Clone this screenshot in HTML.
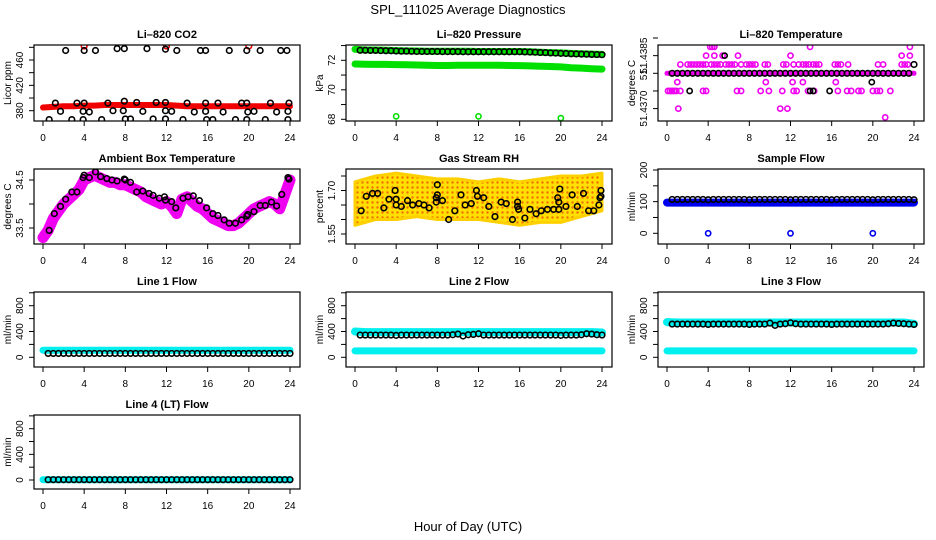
<!DOCTYPE html>
<html><head><meta charset="utf-8"><style>
html,body{margin:0;padding:0;background:#fff}
svg{display:block;font-family:"Liberation Sans",sans-serif}
</style></head><body>
<svg id="c" width="936" height="540" viewBox="0 0 936 540">
<defs>
<pattern id="rhpat" width="5" height="5" patternUnits="userSpaceOnUse">
<rect width="5" height="5" fill="#ffe000"/><circle cx="2.5" cy="2.5" r="1.2" fill="#f07000"/>
</pattern>
</defs>
<text x="468" y="14" text-anchor="middle" font-size="13">SPL_111025  Average Diagnostics</text>
<text x="468" y="531" text-anchor="middle" font-size="13">Hour of Day (UTC)</text>
</svg>
<script>
// ---------- data ----------
const xTicks = [0,4,8,12,16,20,24];
// CO2
const co2Band = [385,386,387,387,388,388,389,389,389,389,389,389,389,388,387,387,387,387,387,387,387,387,387,387,387];
const co2SpikeX = [4,12,20];
const co2SpikeY = [482,482,482];
const co2BlackX = [2.2,4,5.1,7.2,7.9,10.1,11.9,13,15.3,15.8,18.1,19.8,21.1,23.1,23.7, 1.2,3.3,4,6.3,7.9,9.1,11,11.9,14,15.8,17,19.3,19.8,22.1,23.9, 1.7,3.9,4.5,6.8,7.8,9.7,11.9,12.5,14.7,15.8,17.5,19.9,20.5,22.7,23.8, 0.6,2.8,3.9,5.7,8,8.5,10.7,11.9,13.6,15.9,16.5,18.7,19.8,21.6,23.8];
const co2BlackY = [475,475,475,478,478,478,477,475,475,475,475,475,475,475,475, 392,392,392,392,395,393,393,393,392,392,392,392,392,392,392, 379,379,378,380,380,379,380,379,378,379,378,378,379,378,379, 366,366,366,366,367,367,367,367,366,366,366,366,366,366,366];
// Pressure
const presHi = [72.75,72.7,72.7,72.68,72.66,72.64,72.63,72.62,72.62,72.62,72.61,72.61,72.6,72.6,72.6,72.6,72.6,72.58,72.55,72.52,72.5,72.47,72.45,72.42,72.4];
const presLo = [71.75,71.73,71.72,71.72,71.71,71.7,71.68,71.66,71.65,71.65,71.66,71.67,71.67,71.66,71.66,71.65,71.64,71.62,71.6,71.58,71.55,71.5,71.47,71.43,71.4];
const presBlack = [72.68,72.68,72.67,72.67,72.66,72.65,72.65,72.63,72.62,72.62,72.61,72.6,72.6,72.6,72.6,72.6,72.59,72.59,72.59,72.59,72.58,72.58,72.58,72.58,72.58,72.58,72.58,72.58,72.58,72.58,72.58,72.58,72.57,72.56,72.55,72.53,72.52,72.5,72.49,72.47,72.46,72.44,72.43,72.42,72.41,72.4,72.39,72.38];
const presOutX = [4,12,20];
const presOutY = [68.2,68.2,68.08];
// Li-820 temperature
const tempLine = [51.438,51.438,51.438,51.438,51.438,51.438,51.438,51.438,51.438,51.438,51.438,51.438,51.438,51.438,51.438,51.438,51.438,51.438,51.438,51.438,51.438,51.438,51.438,51.438,51.438];
const tempMagX = [4.2,4.4,4.6,13.9,23.6, 3.8,4.6,5.4,6.9,12,22.8,23.6, 1.3,2,2.3,2.6,2.9,3.2,3.5,3.8,4.3,4.6,4.9,5.2,5.7,6,6.3,6.6,7.2,7.7,8,8.3,8.6,9.5,9.8,11.3,11.6,12.3,12.8,13.2,13.5,13.8,14.2,14.5,14.8,16.3,16.6,16.9,17.6,20.5,21,22.8,23.1,23.4, 1,9.6,12.2,13.2,16.4, 0.1,0.3,0.5,0.7,0.9,1.3,3.5,3.8,6.8,7.2,9.1,9.9,11.2,12.3,12.6,13.7,14.3,16.6,17.5,17.9,18.6,18.9,20,20.4,20.7,21.7, 1.1,11,11.7, 21.2];
const tempMagY = [51.43875,51.43875,51.43875,51.43875,51.43875, 51.4385,51.4385,51.4385,51.4385,51.4385,51.4385,51.4385, 51.43825,51.43825,51.43825,51.43825,51.43825,51.43825,51.43825,51.43825,51.43825,51.43825,51.43825,51.43825,51.43825,51.43825,51.43825,51.43825,51.43825,51.43825,51.43825,51.43825,51.43825,51.43825,51.43825,51.43825,51.43825,51.43825,51.43825,51.43825,51.43825,51.43825,51.43825,51.43825,51.43825,51.43825,51.43825,51.43825,51.43825,51.43825,51.43825,51.43825,51.43825,51.43825, 51.43775,51.43775,51.43775,51.43775,51.43775, 51.4375,51.4375,51.4375,51.4375,51.4375,51.4375,51.4375,51.4375,51.4375,51.4375,51.4375,51.4375,51.4375,51.4375,51.4375,51.4375,51.4375,51.4375,51.4375,51.4375,51.4375,51.4375,51.4375,51.4375,51.4375,51.4375, 51.437,51.437,51.437, 51.43675];
const tempBlack = [51.438,51.438,51.438,51.438,51.438,51.438,51.438,51.438,51.438,51.438,51.438,51.438,51.438,51.438,51.438,51.438,51.438,51.438,51.438,51.438,51.438,51.438,51.438,51.438,51.438,51.438,51.438,51.438,51.438,51.438,51.438,51.438,51.438,51.438,51.438,51.438,51.438,51.438,51.438,51.438,51.438,51.438,51.438,51.438,51.438,51.438,51.438,51.43825];
const tempBlackOutX = [2.2,5.6,13.9,14.2,15.8,19.9];
const tempBlackOutY = [51.4375,51.4385,51.4375,51.4375,51.4375,51.43775];
// Ambient box temperature
const ambCurve = [33.3,33.45,33.7,33.85,34.0,34.1,34.2,34.3,34.5,34.55,34.6,34.55,34.5,34.45,34.45,34.4,34.4,34.35,34.3,34.25,34.15,34.1,34.05,34.0,34.05,33.95,33.8,34.1,34.15,34.05,33.95,33.9,33.8,33.7,33.65,33.6,33.55,33.55,33.6,33.7,33.8,33.9,33.95,34.0,34.05,34.0,33.9,34.2,34.5];
const ambBlackX = [0.6,1.1,1.7,2.2,2.8,3.3,3.9,4,4.5,5.1,5.6,6.2,6.7,7.2,7.9,8,8.5,9.1,9.7,10.3,10.7,11.3,11.8,11.9,12.5,12.9,13.6,14.1,14.6,15.2,15.9,16.5,17,17.6,18.1,18.7,19.3,19.8,19.9,20.5,21.1,21.6,22.2,22.7,23.2,23.8,23.9];
const ambBlackY = [33.45,33.8,33.95,34.1,34.25,34.25,34.55,34.6,34.55,34.67,34.57,34.53,34.5,34.48,34.52,34.5,34.45,34.25,34.27,34.22,34.18,34.12,34.15,34.08,34.05,33.92,34.12,34.15,34.17,34.07,33.92,33.8,33.76,33.67,33.6,33.6,33.67,33.75,33.78,33.84,33.97,33.97,34.04,33.96,34.2,34.55,34.52];
// Gas stream RH
const rhHours = [0,2,4,6,8,10,12,14,16,18,20,22,24];
const rhUpper = [1.73,1.75,1.76,1.75,1.74,1.74,1.73,1.74,1.73,1.74,1.75,1.75,1.76];
const rhLower = [1.58,1.60,1.60,1.61,1.60,1.60,1.60,1.59,1.58,1.59,1.59,1.61,1.63];
const rhBlackX = [0.6,1.1,1.7,2.2,2.8,3.3,3.9,4,4,4.5,5.1,5.6,6.2,6.7,7.2,7.9,7.9,8,8,8.5,9.1,9.7,10.3,10.7,11.3,11.8,11.9,12.5,13,13.6,14.2,14.7,15.3,15.8,15.8,15.9,16.5,17,17.6,18.1,18.7,19.3,19.7,19.8,19.8,19.9,20.5,21.1,21.6,22.2,22.7,23.2,23.7,23.8,23.9,23.9];
const rhBlackY = [1.63,1.68,1.69,1.69,1.64,1.67,1.70,1.67,1.65,1.645,1.665,1.65,1.655,1.65,1.64,1.66,1.675,1.685,1.72,1.665,1.60,1.63,1.685,1.65,1.655,1.70,1.68,1.675,1.645,1.61,1.66,1.655,1.60,1.66,1.645,1.635,1.605,1.635,1.62,1.63,1.635,1.635,1.675,1.66,1.635,1.705,1.645,1.685,1.645,1.69,1.63,1.63,1.65,1.675,1.68,1.70];
// Sample flow
const sampleBand = [97,97,97,97,97,97,97,97,97,97,97,97,97,97,97,97,97,97,97,97,97,97,97,97,97];
const sampleBlack = [107,107,107,107,107,107,107,106,107,107,107,107,107,107,107,106,107,107,107,107,107,107,107,106,107,107,107,107,107,107,107,106,107,107,107,107,107,107,107,106,107,107,107,107,107,107,107,106];
const sampleOutX = [4,12,20];
const sampleOutY = [0,0,0];
// Line flows
const line1Cyan = [110,110,110,110,110,110,110,110,110,110,110,110,110,110,110,110,110,110,110,110,110,110,110,110,110];
const line1Black = [60,60,60,60,60,60,60,60,60,60,60,60,60,60,60,60,60,60,60,60,60,60,60,60,60,60,60,60,60,60,60,60,60,60,60,60,60,60,60,60,60,60,60,60,60,60,60,60];
const line2CyanHi = [400,390,390,390,390,390,390,390,390,390,390,390,390,390,390,390,390,390,390,390,390,390,390,390,385];
const line2CyanLo = [100,100,100,100,100,100,100,100,100,100,100,100,100,100,100,100,100,100,100,100,100,100,100,100,100];
const line2Black = [345,345,345,345,345,345,345,340,345,345,345,345,345,345,345,345,345,345,350,360,330,350,355,365,345,345,345,345,345,345,345,345,345,345,345,345,345,345,345,340,345,345,345,350,365,360,350,345];
const line3CyanHi = [545,540,540,540,540,540,540,540,540,540,540,540,540,540,540,540,540,540,540,540,540,540,540,540,520];
const line3CyanLo = [100,100,100,100,100,100,100,100,100,100,100,100,100,100,100,100,100,100,100,100,100,100,100,100,100];
const line3Black = [515,515,515,515,515,515,515,510,515,515,515,515,515,515,515,510,515,515,515,530,495,515,520,535,520,515,515,515,515,515,515,510,515,515,515,515,515,515,515,515,515,515,520,530,525,520,515,510];
const line4Cyan = [5,5,5,5,5,5,5,5,5,5,5,5,5,5,5,5,5,5,5,5,5,5,5,5,5];
const line4Black = [5,5,5,5,5,5,5,5,5,5,5,5,5,5,5,5,5,5,5,5,5,5,5,5,5,5,5,5,5,5,5,5,5,5,5,5,5,5,5,5,5,5,5,5,5,5,5,5];

// ---------- drawing ----------
const svg = document.getElementById('c');
const NS = 'http://www.w3.org/2000/svg';
function mk(tag, attrs, parent){
  const e = document.createElementNS(NS, tag);
  for (const k in attrs) e.setAttribute(k, attrs[k]);
  (parent||svg).appendChild(e);
  return e;
}
const cols = [{l:34,r:300,x0:43,x24:290},{l:346,r:612,x0:355,x24:602},{l:658,r:924,x0:667,x24:914}];
const rows = [{t:45,b:121},{t:169,b:244},{t:292,b:367},{t:415,b:489}];

function panel(ci, ri, title, ytitle, yref, ticks, labels, name){
  const c = cols[ci], r = rows[ri];
  const g = mk('g', {});
  
  
  const xs = h => c.x0 + (c.x24 - c.x0) * h / 24;
  const ys = v => yref[1] + (v - yref[0]) * (yref[3] - yref[1]) / (yref[2] - yref[0]);
  const clip = 'clip' + name;
  const cp = mk('clipPath', {id: clip}, g);
  mk('rect', {x:c.l, y:r.t, width:c.r-c.l, height:r.b-r.t}, cp);
  const plot = mk('g', {'clip-path':'url(#'+clip+')'}, g);
  
  
  const box = mk('rect', {x:c.l, y:r.t, width:c.r-c.l, height:r.b-r.t, fill:'none', stroke:'#000', 'stroke-width':1.2}, g);
  
  
  const t = mk('text', {x:(c.l+c.r)/2, y:r.t-7, 'text-anchor':'middle', 'font-size':11, 'font-weight':'bold'}, g);
  t.textContent = title;
  
  
  xTicks.forEach(h => {
    mk('line', {x1:xs(h), x2:xs(h), y1:r.b, y2:r.b+5, stroke:'#000'}, g);
    const tl = mk('text', {x:xs(h), y:r.b+20, 'text-anchor':'middle', 'font-size':10}, g);
    tl.textContent = h;
    
    
  });
  ticks.forEach(v => { mk('line', {x1:c.l-5, x2:c.l, y1:ys(v), y2:ys(v), stroke:'#000'}, g); });
  labels.forEach(([v, s]) => {
    const yl = mk('text', {x:0, y:0, 'text-anchor':'middle', 'font-size':10, transform:'translate('+(c.l-11)+','+ys(v)+') rotate(-90)'}, g);
    yl.textContent = s;
    
    
  });
  const yt = mk('text', {x:0, y:0, 'text-anchor':'middle', 'font-size':10, transform:'translate('+(c.l-23)+','+((r.t+r.b)/2)+') rotate(-90)'}, g);
  yt.textContent = ytitle;
  
  
  return {xs, ys, plot};
}
function band(p, vals, step, start, color, w, name){
  const pts = vals.map((v,i) => p.xs(start + i*step).toFixed(1) + ',' + p.ys(v).toFixed(1)).join(' ');
  const e = mk('polyline', {points:pts, fill:'none', stroke:color, 'stroke-width':w, 'stroke-linecap':'round', 'stroke-linejoin':'round'}, p.plot);
  
  
}
function pts(p, xsArr, ysArr, color, rad, name, sw){
  xsArr.forEach((h,i) => {
    const e = mk('circle', {cx:p.xs(h), cy:p.ys(ysArr[i]), r:rad, fill:'none', stroke:color, 'stroke-width':sw||1.6}, p.plot);
    
    
  });
}
function series(p, vals, color, name){
  vals.forEach((v,i) => {
    const e = mk('circle', {cx:p.xs(0.5 + i*0.5), cy:p.ys(v), r:2.8, fill:'none', stroke:color, 'stroke-width':1.6}, p.plot);
    
    
  });
}

let p = panel(0,0,'Li–820 CO2','Licor ppm',[380,110.7,460,60],[380,400,420,440,460,480],[[380,'380'],[420,'420'],[460,'460']],'co2');
band(p, co2Band, 1, 0, '#f00000', 6, 'co2-band');
pts(p, co2SpikeX, co2SpikeY, '#f00000', 2.8, 'co2-spike');
pts(p, co2BlackX, co2BlackY, '#000', 2.8, 'co2-black-point');

p = panel(1,0,'Li–820 Pressure','kPa',[72,60.3,68,119.3],[68,69,70,71,72,73],[[68,'68'],[70,'70'],[72,'72']],'pressure');
band(p, presHi, 1, 0, '#00e000', 7, 'pressure-band-high');
band(p, presLo, 1, 0, '#00e000', 7, 'pressure-band-low');
series(p, presBlack, '#000', 'pressure-black-point');
pts(p, presOutX, presOutY, '#00e000', 2.6, 'pressure-outlier');

p = panel(2,0,'Li–820 Temperature','degrees C',[51.438,73.3,51.437,108.6],[51.437,51.4375,51.438,51.4385,51.439],[[51.437,'51.4370'],[51.438,'51.'],[51.4385,'51.4385']],'li820-temp');
band(p, tempLine, 1, 0, '#f000f0', 5, 'temp-magenta-line');
pts(p, tempMagX, tempMagY, '#f000f0', 2.6, 'temp-magenta-point');
series(p, tempBlack, '#000', 'temp-black-point');
pts(p, tempBlackOutX, tempBlackOutY, '#000', 2.6, 'temp-black-outlier');

p = panel(0,1,'Ambient Box Temperature','degrees C',[34.5,180,33.5,228],[33.5,34,34.5],[[33.5,'33.5'],[34.5,'34.5']],'ambient');
band(p, ambCurve, 0.5, 0, '#f000f0', 11, 'ambient-band');
pts(p, ambBlackX, ambBlackY, '#000', 2.8, 'ambient-black-point');

p = panel(1,1,'Gas Stream RH','percent',[1.70,190.5,1.55,234],[1.55,1.60,1.65,1.70,1.75],[[1.55,'1.55'],[1.70,'1.70']],'rh');
{
  const up = rhHours.map((h,i) => p.xs(h).toFixed(1)+','+p.ys(rhUpper[i]).toFixed(1));
  const lo = rhHours.map((h,i) => p.xs(h).toFixed(1)+','+p.ys(rhLower[i]).toFixed(1)).reverse();
  const e = mk('polygon', {points: up.concat(lo).join(' '), fill:'url(#rhpat)', stroke:'#ffd000', 'stroke-width':3, 'stroke-linejoin':'round'}, p.plot);
  
  
}
pts(p, rhBlackX, rhBlackY, '#000', 2.8, 'rh-black-point');

p = panel(2,1,'Sample Flow','ml/min',[0,233.3,200,170],[0,50,100,150,200],[[0,'0'],[100,'100'],[200,'200']],'sample-flow');
band(p, sampleBand, 1, 0, '#0000f0', 8, 'sample-band');
series(p, sampleBlack, '#000', 'sample-black-point');
pts(p, sampleOutX, sampleOutY, '#0000f0', 2.6, 'sample-outlier');

const fTicks = [0,200,400,600,800,1000];
const fLabels = [[0,'0'],[400,'400'],[800,'800']];
p = panel(0,2,'Line 1 Flow','ml/min',[0,357.3,800,305.7],fTicks,fLabels,'line1');
band(p, line1Cyan, 1, 0, '#00f0f0', 7, 'line1-band');
series(p, line1Black, '#000', 'line1-black-point');
p = panel(1,2,'Line 2 Flow','ml/min',[0,357.3,800,305.7],fTicks,fLabels,'line2');
band(p, line2CyanHi, 1, 0, '#00f0f0', 8, 'line2-band-high');
band(p, line2CyanLo, 1, 0, '#00f0f0', 7, 'line2-band-low');
series(p, line2Black, '#000', 'line2-black-point');
p = panel(2,2,'Line 3 Flow','ml/min',[0,357.3,800,305.7],fTicks,fLabels,'line3');
band(p, line3CyanHi, 1, 0, '#00f0f0', 8, 'line3-band-high');
band(p, line3CyanLo, 1, 0, '#00f0f0', 7, 'line3-band-low');
series(p, line3Black, '#000', 'line3-black-point');
p = panel(0,3,'Line 4 (LT) Flow','ml/min',[0,480,800,428.7],fTicks,fLabels,'line4');
band(p, line4Cyan, 1, 0, '#00f0f0', 7, 'line4-band');
series(p, line4Black, '#000', 'line4-black-point');
</script>
</body></html>
